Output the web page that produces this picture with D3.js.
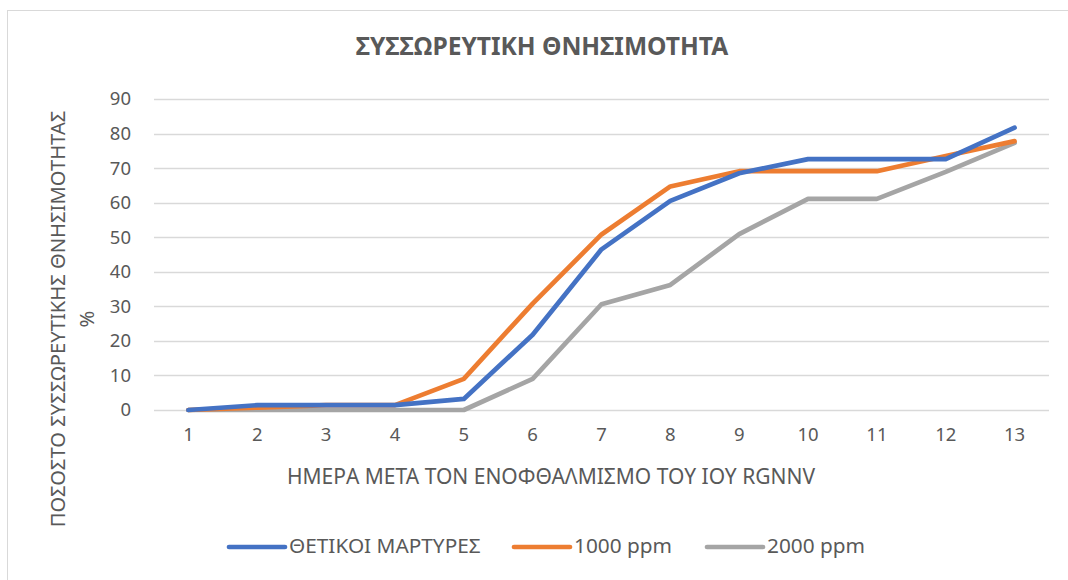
<!DOCTYPE html>
<html>
<head>
<meta charset="utf-8">
<script src="https://cdn.jsdelivr.net/npm/d3@7"></script>
<style>
  body { margin: 0; background: #fff; }
  svg { display: block; font-family: "Noto Sans", "Open Sans", sans-serif; }
</style>
</head>
<body>
<svg id="chart" width="1068" height="580"></svg>
<script>
const days = [1, 2, 3, 4, 5, 6, 7, 8, 9, 10, 11, 12, 13];
const controlValues = [0, 1.4, 1.4, 1.4, 3.2, 21.8, 46.5, 60.5, 68.5, 72.6, 72.6, 72.6, 81.7];
const ppm1000Values = [0, 0.7, 1.4, 1.4, 9.0, 30.8, 50.8, 64.7, 69.1, 69.1, 69.1, 73.5, 77.8];
const ppm2000Values = [0, 0, 0, 0, 0, 9.0, 30.6, 36.2, 50.9, 61.1, 61.1, 68.9, 77.3];
const seriesNames = ["ΘΕΤΙΚΟΙ ΜΑΡΤΥΡΕΣ", "1000 ppm", "2000 ppm"];
const seriesColours = ["#4472C4", "#ED7D31", "#A5A5A5"];
const yTicks = [0, 10, 20, 30, 40, 50, 60, 70, 80, 90];

const series = [controlValues, ppm1000Values, ppm2000Values].map((vals, i) => ({
    name: seriesNames[i],
    colour: seriesColours[i],
    points: days.map((d, j) => ({ day: d, value: vals[j] }))
}));

const svg = d3.select("#chart");
const textColour = "#595959";

const margin = { top: 99, left: 154, right: 19, bottom: 170 };
const width = 1068 - margin.left - margin.right;
const height = 580 - margin.top - margin.bottom;

// outer chart border (runs off the picture on the right and bottom)
svg.append("rect")
    .attr("x", 7.5).attr("y", 10.5)
    .attr("width", 1080).attr("height", 600)
    .attr("fill", "none")
    .attr("stroke", "#D9D9D9")
    .attr("stroke-width", 1);

svg.append("text")
    .attr("x", 542).attr("y", 48)
    .attr("text-anchor", "middle")
    .attr("dominant-baseline", "middle")
    .attr("font-size", 24.6)
    .attr("font-weight", 700)
    .attr("fill", textColour)
    .text("ΣΥΣΣΩΡΕΥΤΙΚΗ ΘΝΗΣΙΜΟΤΗΤΑ");

const xScale = d3.scaleBand().domain(days).range([0, width]);
const yScale = d3.scaleLinear().domain([0, 90]).range([height, 0]);

const chart = svg.append("g")
    .attr("transform", `translate(${margin.left}, ${margin.top})`);

chart.selectAll("line.grid")
    .data(yTicks)
    .join("line")
    .attr("class", "grid")
    .attr("x1", 0)
    .attr("x2", width)
    .attr("y1", d => Math.round(yScale(d)) + 0.5)
    .attr("y2", d => Math.round(yScale(d)) + 0.5)
    .attr("stroke", "#D9D9D9")
    .attr("stroke-width", 1.3);

const yAxis = chart.append("g")
    .call(d3.axisLeft(yScale).tickValues(yTicks).tickSize(0).tickPadding(23));
yAxis.select(".domain").remove();
yAxis.selectAll("text")
    .attr("font-size", 18.5)
    .attr("font-family", "Noto Sans, sans-serif")
    .attr("fill", textColour);

const xAxis = chart.append("g")
    .attr("transform", `translate(0, ${height})`)
    .call(d3.axisBottom(xScale).tickSize(0).tickPadding(18));
xAxis.select(".domain").remove();
xAxis.selectAll("text")
    .attr("font-size", 18.5)
    .attr("font-family", "Noto Sans, sans-serif")
    .attr("fill", textColour);

const line = d3.line()
    .x(d => xScale(d.day) + xScale.bandwidth() / 2)
    .y(d => yScale(d.value));

chart.selectAll("path.series")
    .data(series.slice().reverse())
    .join("path")
    .attr("class", "series")
    .attr("d", d => line(d.points))
    .attr("fill", "none")
    .attr("stroke", d => d.colour)
    .attr("stroke-width", 4.7)
    .attr("stroke-linejoin", "round")
    .attr("stroke-linecap", "round");

svg.append("text")
    .attr("x", 551)
    .attr("y", 478)
    .attr("text-anchor", "middle")
    .attr("dominant-baseline", "middle")
    .attr("font-size", 21)
    .attr("fill", textColour)
    .text("ΗΜΕΡΑ ΜΕΤΑ ΤΟΝ ΕΝΟΦΘΑΛΜΙΣΜΟ ΤΟΥ ΙΟΥ RGNNV");

const yLabel = svg.append("text")
    .attr("transform", "translate(58, 319) rotate(-90)")
    .attr("text-anchor", "middle")
    .attr("font-size", 20.2)
    .attr("fill", textColour);
yLabel.append("tspan")
    .attr("x", 0).attr("dy", "0.35em")
    .text("ΠΟΣΟΣΤΟ ΣΥΣΣΩΡΕΥΤΙΚΗΣ ΘΝΗΣΙΜΟΤΗΤΑΣ");
yLabel.append("tspan")
    .attr("x", 0).attr("dy", 29)
    .text("%");

const legendX = [229, 514, 707];
const legend = svg.selectAll("g.legend")
    .data(series)
    .join("g")
    .attr("class", "legend")
    .attr("transform", (d, i) => `translate(${legendX[i]}, 547)`);
legend.append("line")
    .attr("x1", 0).attr("x2", 56)
    .attr("stroke", d => d.colour)
    .attr("stroke-width", 4.7)
    .attr("stroke-linecap", "round");
legend.append("text")
    .attr("x", 60)
    .attr("dominant-baseline", "middle")
    .attr("font-size", 20.8)
    .attr("fill", textColour)
    .text(d => d.name);
</script>
</body>
</html>
